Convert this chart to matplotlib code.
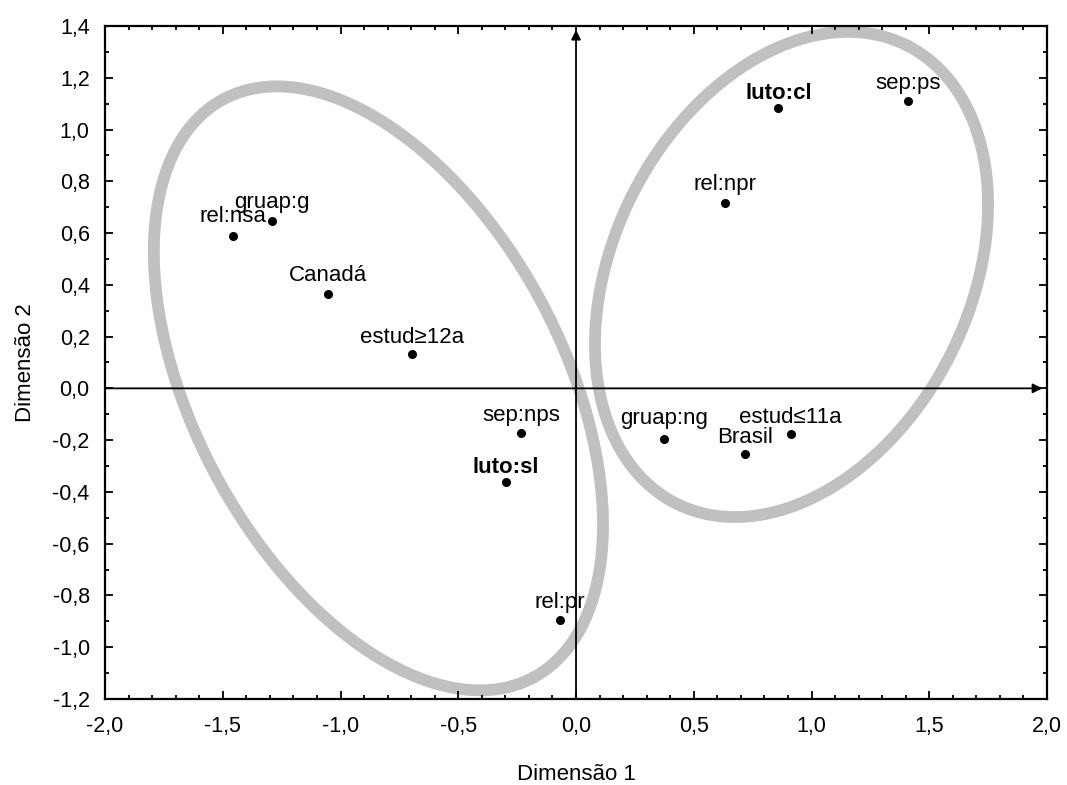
import numpy as np
import matplotlib.pyplot as plt
from matplotlib.ticker import MultipleLocator, FuncFormatter

plt.rcParams['font.family'] = ['Liberation Sans', 'DejaVu Sans']

# categorias e coordenadas (dimensão 1, dimensão 2)
labels = ['rel:nsa', 'gruap:g', 'Canadá', 'estud≥12a', 'sep:nps', 'luto:sl',
          'rel:pr', 'gruap:ng', 'Brasil', 'estud≤11a', 'rel:npr', 'luto:cl',
          'sep:ps']
dim1 = [-1.455, -1.29, -1.054, -0.698, -0.234, -0.297,
        -0.068, 0.374, 0.718, 0.912, 0.633, 0.859, 1.411]
dim2 = [0.589, 0.647, 0.366, 0.134, -0.174, -0.360,
        -0.895, -0.197, -0.253, -0.176, 0.715, 1.082, 1.112]
bold = {'luto:sl', 'luto:cl'}
# deslocamento vertical do texto (pixels acima do ponto, até a linha de base)
label_dy = [14, 13, 13, 11, 12, 9, 12, 15, 11, 11, 13, 9, 12]

# elipses de agrupamento: centro (dados), semi-eixos (unid. de x), ângulo
ellipses = [
    (-0.839, 0.0, 1.393, 0.783, -61.8),
    (0.915, 0.44, 1.089, 0.756, 63.2),
]

fig = plt.figure(figsize=(10.67, 7.85), dpi=100)
ax = fig.add_axes([0.0984, 0.1096, 0.8829, 0.8573])
ax.set_xlim(-2.0, 2.0)
ax.set_ylim(-1.2, 1.4)

# razão entre as escalas em pixels (y / x)
ky = (785 * 0.8573 / 2.6) / (1067 * 0.8829 / 4.0)

t = np.linspace(0, 2 * np.pi, 400)
for cx, cy, a, b, ang in ellipses:
    th = np.deg2rad(ang)
    u, v = a * np.cos(t), b * np.sin(t)
    ex = cx + u * np.cos(th) - v * np.sin(th)
    ey = cy + (u * np.sin(th) + v * np.cos(th)) / ky
    ax.plot(ex, ey, color='#c0c0c0', lw=8.5, solid_capstyle='round', zorder=1)

# eixos com setas
ax.annotate('', xy=(1.98, 0), xytext=(-2.0, 0),
            arrowprops=dict(arrowstyle='-|>', color='black', lw=1.3,
                            mutation_scale=14, shrinkA=0, shrinkB=0), zorder=2)
ax.annotate('', xy=(0, 1.385), xytext=(0, -1.2),
            arrowprops=dict(arrowstyle='-|>', color='black', lw=1.3,
                            mutation_scale=14, shrinkA=0, shrinkB=0), zorder=2)

ax.plot(dim1, dim2, 'o', color='black', ms=5.5, zorder=3)
for lab, x, y, dy in zip(labels, dim1, dim2, label_dy):
    ax.annotate(lab, (x, y), xytext=(0, dy * 0.72), textcoords='offset points',
                ha='center', va='baseline', fontsize=16,
                fontweight='bold' if lab in bold else 'normal', zorder=4)

fmt = FuncFormatter(lambda v, p: f'{v:.1f}'.replace('.', ','))
ax.xaxis.set_major_locator(MultipleLocator(0.5))
ax.xaxis.set_minor_locator(MultipleLocator(0.1))
ax.yaxis.set_major_locator(MultipleLocator(0.2))
ax.yaxis.set_minor_locator(MultipleLocator(0.1))
ax.xaxis.set_major_formatter(fmt)
ax.yaxis.set_major_formatter(fmt)
ax.tick_params(which='both', direction='in', top=True, right=True,
               width=1.3, labelsize=15.5)
ax.tick_params(axis='x', which='major', length=6, pad=12)
ax.tick_params(axis='y', which='major', length=6, pad=11)
ax.tick_params(which='minor', length=3)
for s in ax.spines.values():
    s.set_linewidth(1.6)

ax.set_xlabel('Dimensão 1', fontsize=16, labelpad=20)
ax.set_ylabel('Dimensão 2', fontsize=16, labelpad=12)

fig.savefig('out.png', dpi=100)
